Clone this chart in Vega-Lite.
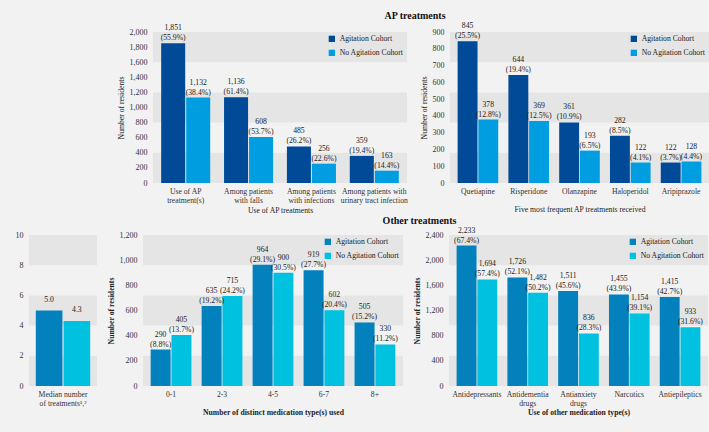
{
  "$schema": "https://vega.github.io/schema/vega-lite/v6.json",
  "padding": {"left": 15, "top": 11, "right": 1, "bottom": 18},
  "background": "#f2f2f2",
  "config": {
    "font": "Liberation Serif",
    "view": {"stroke": null},
    "axis": {"domain": false, "ticks": false, "grid": false, "labelFontSize": 8, "titleFontSize": 7.7, "titleFontWeight": "normal", "labelColor": "#333333", "titleColor": "#222222", "labelPadding": 6, "labelOverlap": false},
    "axisX": {"labelAngle": 0, "labelFontSize": 7.7, "labelPadding": 4, "labelLineHeight": 9},
    "legend": {"orient": "top-right", "title": null, "symbolType": "square", "labelFontSize": 7.7, "symbolSize": 40, "rowPadding": 5, "offset": 3, "padding": 0, "labelColor": "#222222", "symbolStrokeWidth": 0},
    "title": {"fontSize": 10, "fontWeight": "bold", "color": "#111111", "anchor": "middle"}
  },
  "datasets": {
    "p1": [
      {"cat": "Use of AP|treatment(s)", "cohort": "Agitation Cohort", "n": 1851, "p": 55.9},
      {"cat": "Use of AP|treatment(s)", "cohort": "No Agitation Cohort", "n": 1132, "p": 38.4},
      {"cat": "Among patients|with falls", "cohort": "Agitation Cohort", "n": 1136, "p": 61.4},
      {"cat": "Among patients|with falls", "cohort": "No Agitation Cohort", "n": 608, "p": 53.7},
      {"cat": "Among patients|with infections", "cohort": "Agitation Cohort", "n": 485, "p": 26.2},
      {"cat": "Among patients|with infections", "cohort": "No Agitation Cohort", "n": 256, "p": 22.6},
      {"cat": "Among patients with|urinary tract infection", "cohort": "Agitation Cohort", "n": 359, "p": 19.4},
      {"cat": "Among patients with|urinary tract infection", "cohort": "No Agitation Cohort", "n": 163, "p": 14.4}
    ],
    "p2": [
      {"cat": "Quetiapine", "cohort": "Agitation Cohort", "n": 845, "p": 25.5},
      {"cat": "Quetiapine", "cohort": "No Agitation Cohort", "n": 378, "p": 12.8},
      {"cat": "Risperidone", "cohort": "Agitation Cohort", "n": 644, "p": 19.4},
      {"cat": "Risperidone", "cohort": "No Agitation Cohort", "n": 369, "p": 12.5},
      {"cat": "Olanzapine", "cohort": "Agitation Cohort", "n": 361, "p": 10.9},
      {"cat": "Olanzapine", "cohort": "No Agitation Cohort", "n": 193, "p": 6.5},
      {"cat": "Haloperidol", "cohort": "Agitation Cohort", "n": 282, "p": 8.5},
      {"cat": "Haloperidol", "cohort": "No Agitation Cohort", "n": 122, "p": 4.1},
      {"cat": "Aripiprazole", "cohort": "Agitation Cohort", "n": 122, "p": 3.7},
      {"cat": "Aripiprazole", "cohort": "No Agitation Cohort", "n": 128, "p": 4.4}
    ],
    "pa": [
      {"cat": "Median number|of treatments¹,²", "cohort": "Agitation Cohort", "n": 5.0},
      {"cat": "Median number|of treatments¹,²", "cohort": "No Agitation Cohort", "n": 4.3}
    ],
    "pb": [
      {"cat": "0-1", "cohort": "Agitation Cohort", "n": 290, "p": 8.8},
      {"cat": "0-1", "cohort": "No Agitation Cohort", "n": 405, "p": 13.7},
      {"cat": "2-3", "cohort": "Agitation Cohort", "n": 635, "p": 19.2},
      {"cat": "2-3", "cohort": "No Agitation Cohort", "n": 715, "p": 24.2},
      {"cat": "4-5", "cohort": "Agitation Cohort", "n": 964, "p": 29.1},
      {"cat": "4-5", "cohort": "No Agitation Cohort", "n": 900, "p": 30.5},
      {"cat": "6-7", "cohort": "Agitation Cohort", "n": 919, "p": 27.7},
      {"cat": "6-7", "cohort": "No Agitation Cohort", "n": 602, "p": 20.4},
      {"cat": "8+", "cohort": "Agitation Cohort", "n": 505, "p": 15.2},
      {"cat": "8+", "cohort": "No Agitation Cohort", "n": 330, "p": 11.2}
    ],
    "pc": [
      {"cat": "Antidepressants", "cohort": "Agitation Cohort", "n": 2233, "p": 67.4},
      {"cat": "Antidepressants", "cohort": "No Agitation Cohort", "n": 1694, "p": 57.4},
      {"cat": "Antidementia|drugs", "cohort": "Agitation Cohort", "n": 1726, "p": 52.1},
      {"cat": "Antidementia|drugs", "cohort": "No Agitation Cohort", "n": 1482, "p": 50.2},
      {"cat": "Antianxiety|drugs", "cohort": "Agitation Cohort", "n": 1511, "p": 45.6},
      {"cat": "Antianxiety|drugs", "cohort": "No Agitation Cohort", "n": 836, "p": 28.3},
      {"cat": "Narcotics", "cohort": "Agitation Cohort", "n": 1455, "p": 43.9},
      {"cat": "Narcotics", "cohort": "No Agitation Cohort", "n": 1154, "p": 39.1},
      {"cat": "Antiepileptics", "cohort": "Agitation Cohort", "n": 1415, "p": 42.7},
      {"cat": "Antiepileptics", "cohort": "No Agitation Cohort", "n": 933, "p": 31.6}
    ]
  },
  "resolve": {"scale": {"color": "independent"}, "legend": {"color": "independent"}},
  "spacing": 0,
  "vconcat": [
    {
      "title": {"text": "AP treatments", "dx": 46, "offset": 1},
      "bounds": "flush",
      "spacing": 43,
      "resolve": {"scale": {"color": "independent", "x": "independent", "y": "independent", "xOffset": "independent"}, "legend": {"color": "independent"}},
      "hconcat": [
        {"width": 81, "height": 151, "data": {"values": []}, "mark": {"type": "point", "opacity": 0}, "encoding": {}},
        {
          "width": 254, "height": 151,
          "data": {"name": "p1"},
          "layer": [
            {"data": {"values": [{"lo": 0, "hi": 400}, {"lo": 800, "hi": 1200}, {"lo": 1600, "hi": 2000}]},
             "mark": {"type": "rect", "color": "#e5e5e5"},
             "encoding": {"y": {"field": "lo", "type": "quantitative", "title": "Number of residents", "scale": {"domain": [0, 2000], "nice": false}, "axis": {"values": [0, 200, 400, 600, 800, 1000, 1200, 1400, 1600, 1800, 2000], "format": ",d"}}, "y2": {"field": "hi"}}},
            {"mark": "bar",
             "encoding": {
               "x": {"field": "cat", "type": "nominal", "sort": null, "title": "Use of AP treatments", "scale": {"paddingInner": 0.22, "paddingOuter": 0.13}, "axis": {"labelExpr": "split(datum.label, '|')", "titlePadding": 3}},
               "xOffset": {"field": "cohort", "type": "nominal", "scale": {"domain": ["Agitation Cohort", "No Agitation Cohort"], "paddingInner": 0.04}},
               "y": {"field": "n", "type": "quantitative", "title": "Number of residents", "axis": {"values": [0, 200, 400, 600, 800, 1000, 1200, 1400, 1600, 1800, 2000], "format": ",d"}},
               "color": {"field": "cohort", "type": "nominal", "scale": {"domain": ["Agitation Cohort", "No Agitation Cohort"], "range": ["#004a97", "#009ee0"]}}}},
            {"transform": [{"calculate": "format(datum.n, ',') + '|(' + format(datum.p, '.1f') + '%)'", "as": "lbl"}],
             "mark": {"type": "text", "baseline": "bottom", "lineBreak": "|", "fontSize": 7.7, "lineHeight": 10, "dy": -11, "color": "#222222"},
             "encoding": {
               "x": {"field": "cat", "type": "nominal", "sort": null},
               "xOffset": {"field": "cohort", "type": "nominal"},
               "y": {"field": "n", "type": "quantitative", "title": "Number of residents", "axis": {"values": [0, 200, 400, 600, 800, 1000, 1200, 1400, 1600, 1800, 2000], "format": ",d"}},
               "text": {"field": "lbl"}}}
          ]
        },
        {
          "width": 259, "height": 151,
          "data": {"name": "p2"},
          "layer": [
            {"data": {"values": [{"lo": 0, "hi": 180}, {"lo": 360, "hi": 540}, {"lo": 720, "hi": 900}]},
             "mark": {"type": "rect", "color": "#e5e5e5"},
             "encoding": {"y": {"field": "lo", "type": "quantitative", "title": "Number of residents", "scale": {"domain": [0, 900], "nice": false}, "axis": {"values": [0, 100, 200, 300, 400, 500, 600, 700, 800, 900], "format": "d"}}, "y2": {"field": "hi"}}},
            {"mark": "bar",
             "encoding": {
               "x": {"field": "cat", "type": "nominal", "sort": null, "title": "Five most frequent AP treatments received", "scale": {"paddingInner": 0.2, "paddingOuter": 0.15}, "axis": {"titlePadding": 11}},
               "xOffset": {"field": "cohort", "type": "nominal", "scale": {"domain": ["Agitation Cohort", "No Agitation Cohort"], "paddingInner": 0.04}},
               "y": {"field": "n", "type": "quantitative", "title": "Number of residents", "axis": {"values": [0, 100, 200, 300, 400, 500, 600, 700, 800, 900], "format": "d"}},
               "color": {"field": "cohort", "type": "nominal", "scale": {"domain": ["Agitation Cohort", "No Agitation Cohort"], "range": ["#004a97", "#009ee0"]}}}},
            {"transform": [{"calculate": "format(datum.n, ',') + '|(' + format(datum.p, '.1f') + '%)'", "as": "lbl"}],
             "mark": {"type": "text", "baseline": "bottom", "lineBreak": "|", "fontSize": 7.7, "lineHeight": 10, "dy": -11, "color": "#222222"},
             "encoding": {
               "x": {"field": "cat", "type": "nominal", "sort": null},
               "xOffset": {"field": "cohort", "type": "nominal"},
               "y": {"field": "n", "type": "quantitative", "title": "Number of residents", "axis": {"values": [0, 100, 200, 300, 400, 500, 600, 700, 800, 900], "format": "d"}},
               "text": {"field": "lbl"}}}
          ]
        }
      ]
    },
    {
      "title": {"text": "Other treatments", "dx": 58, "offset": 1},
      "bounds": "flush",
      "spacing": 46,
      "resolve": {"scale": {"color": "independent", "x": "independent", "y": "independent", "xOffset": "independent"}, "legend": {"color": "independent"}},
      "hconcat": [
        {
          "width": 68, "height": 151,
          "data": {"name": "pa"},
          "layer": [
            {"data": {"values": [{"lo": 0, "hi": 2}, {"lo": 4, "hi": 6}, {"lo": 8, "hi": 10}]},
             "mark": {"type": "rect", "color": "#e5e5e5"},
             "encoding": {"y": {"field": "lo", "type": "quantitative", "title": null, "scale": {"domain": [0, 10], "nice": false}, "axis": {"values": [0, 2, 4, 6, 8, 10], "format": "d"}}, "y2": {"field": "hi"}}},
            {"mark": "bar",
             "encoding": {
               "x": {"field": "cat", "type": "nominal", "title": null, "scale": {"paddingInner": 0.2, "paddingOuter": 0.1}, "axis": {"labelExpr": "split(datum.label, '|')"}},
               "xOffset": {"field": "cohort", "type": "nominal", "scale": {"domain": ["Agitation Cohort", "No Agitation Cohort"], "paddingInner": 0.04}},
               "y": {"field": "n", "type": "quantitative", "title": null, "axis": {"values": [0, 2, 4, 6, 8, 10], "format": "d"}},
               "color": {"field": "cohort", "type": "nominal", "scale": {"domain": ["Agitation Cohort", "No Agitation Cohort"], "range": ["#0381bd", "#00c2e0"]}, "legend": null}}},
            {"mark": {"type": "text", "baseline": "bottom", "fontSize": 7.7, "dy": -7, "color": "#222222"},
             "encoding": {
               "x": {"field": "cat", "type": "nominal"},
               "xOffset": {"field": "cohort", "type": "nominal"},
               "y": {"field": "n", "type": "quantitative", "title": null, "axis": {"values": [0, 2, 4, 6, 8, 10], "format": "d"}},
               "text": {"field": "n", "format": ".1f"}}}
          ]
        },
        {
          "width": 260, "height": 151,
          "data": {"name": "pb"},
          "layer": [
            {"data": {"values": [{"lo": 0, "hi": 240}, {"lo": 480, "hi": 720}, {"lo": 960, "hi": 1200}]},
             "mark": {"type": "rect", "color": "#e5e5e5"},
             "encoding": {"y": {"field": "lo", "type": "quantitative", "title": "Number of residents", "scale": {"domain": [0, 1200], "nice": false}, "axis": {"values": [0, 200, 400, 600, 800, 1000, 1200], "format": ",d", "titleFontWeight": "bold"}}, "y2": {"field": "hi"}}},
            {"mark": "bar",
             "encoding": {
               "x": {"field": "cat", "type": "nominal", "sort": null, "title": "Number of distinct medication type(s) used", "scale": {"paddingInner": 0.2, "paddingOuter": 0.15}, "axis": {"titlePadding": 11, "titleFontWeight": "bold"}},
               "xOffset": {"field": "cohort", "type": "nominal", "scale": {"domain": ["Agitation Cohort", "No Agitation Cohort"], "paddingInner": 0.04}},
               "y": {"field": "n", "type": "quantitative", "title": "Number of residents", "axis": {"values": [0, 200, 400, 600, 800, 1000, 1200], "format": ",d", "titleFontWeight": "bold"}},
               "color": {"field": "cohort", "type": "nominal", "scale": {"domain": ["Agitation Cohort", "No Agitation Cohort"], "range": ["#0381bd", "#00c2e0"]}}}},
            {"transform": [{"calculate": "format(datum.n, ',') + '|(' + format(datum.p, '.1f') + '%)'", "as": "lbl"}],
             "mark": {"type": "text", "baseline": "bottom", "lineBreak": "|", "fontSize": 7.7, "lineHeight": 10, "dy": -11, "color": "#222222"},
             "encoding": {
               "x": {"field": "cat", "type": "nominal", "sort": null},
               "xOffset": {"field": "cohort", "type": "nominal"},
               "y": {"field": "n", "type": "quantitative", "title": "Number of residents", "axis": {"values": [0, 200, 400, 600, 800, 1000, 1200], "format": ",d", "titleFontWeight": "bold"}},
               "text": {"field": "lbl"}}}
          ]
        },
        {
          "width": 259, "height": 151,
          "data": {"name": "pc"},
          "layer": [
            {"data": {"values": [{"lo": 0, "hi": 480}, {"lo": 960, "hi": 1440}, {"lo": 1920, "hi": 2400}]},
             "mark": {"type": "rect", "color": "#e5e5e5"},
             "encoding": {"y": {"field": "lo", "type": "quantitative", "title": "Number of residents", "scale": {"domain": [0, 2400], "nice": false}, "axis": {"values": [0, 400, 800, 1200, 1600, 2000, 2400], "format": ",d", "titleFontWeight": "bold"}}, "y2": {"field": "hi"}}},
            {"mark": "bar",
             "encoding": {
               "x": {"field": "cat", "type": "nominal", "sort": null, "title": "Use of other medication type(s)", "scale": {"paddingInner": 0.2, "paddingOuter": 0.15}, "axis": {"labelExpr": "split(datum.label, '|')", "titlePadding": 2, "titleFontWeight": "bold"}},
               "xOffset": {"field": "cohort", "type": "nominal", "scale": {"domain": ["Agitation Cohort", "No Agitation Cohort"], "paddingInner": 0.04}},
               "y": {"field": "n", "type": "quantitative", "title": "Number of residents", "axis": {"values": [0, 400, 800, 1200, 1600, 2000, 2400], "format": ",d", "titleFontWeight": "bold"}},
               "color": {"field": "cohort", "type": "nominal", "scale": {"domain": ["Agitation Cohort", "No Agitation Cohort"], "range": ["#0381bd", "#00c2e0"]}}}},
            {"transform": [{"calculate": "format(datum.n, ',') + '|(' + format(datum.p, '.1f') + '%)'", "as": "lbl"}],
             "mark": {"type": "text", "baseline": "bottom", "lineBreak": "|", "fontSize": 7.7, "lineHeight": 10, "dy": -11, "color": "#222222"},
             "encoding": {
               "x": {"field": "cat", "type": "nominal", "sort": null},
               "xOffset": {"field": "cohort", "type": "nominal"},
               "y": {"field": "n", "type": "quantitative", "title": "Number of residents", "axis": {"values": [0, 400, 800, 1200, 1600, 2000, 2400], "format": ",d", "titleFontWeight": "bold"}},
               "text": {"field": "lbl"}}}
          ]
        }
      ]
    }
  ]
}
